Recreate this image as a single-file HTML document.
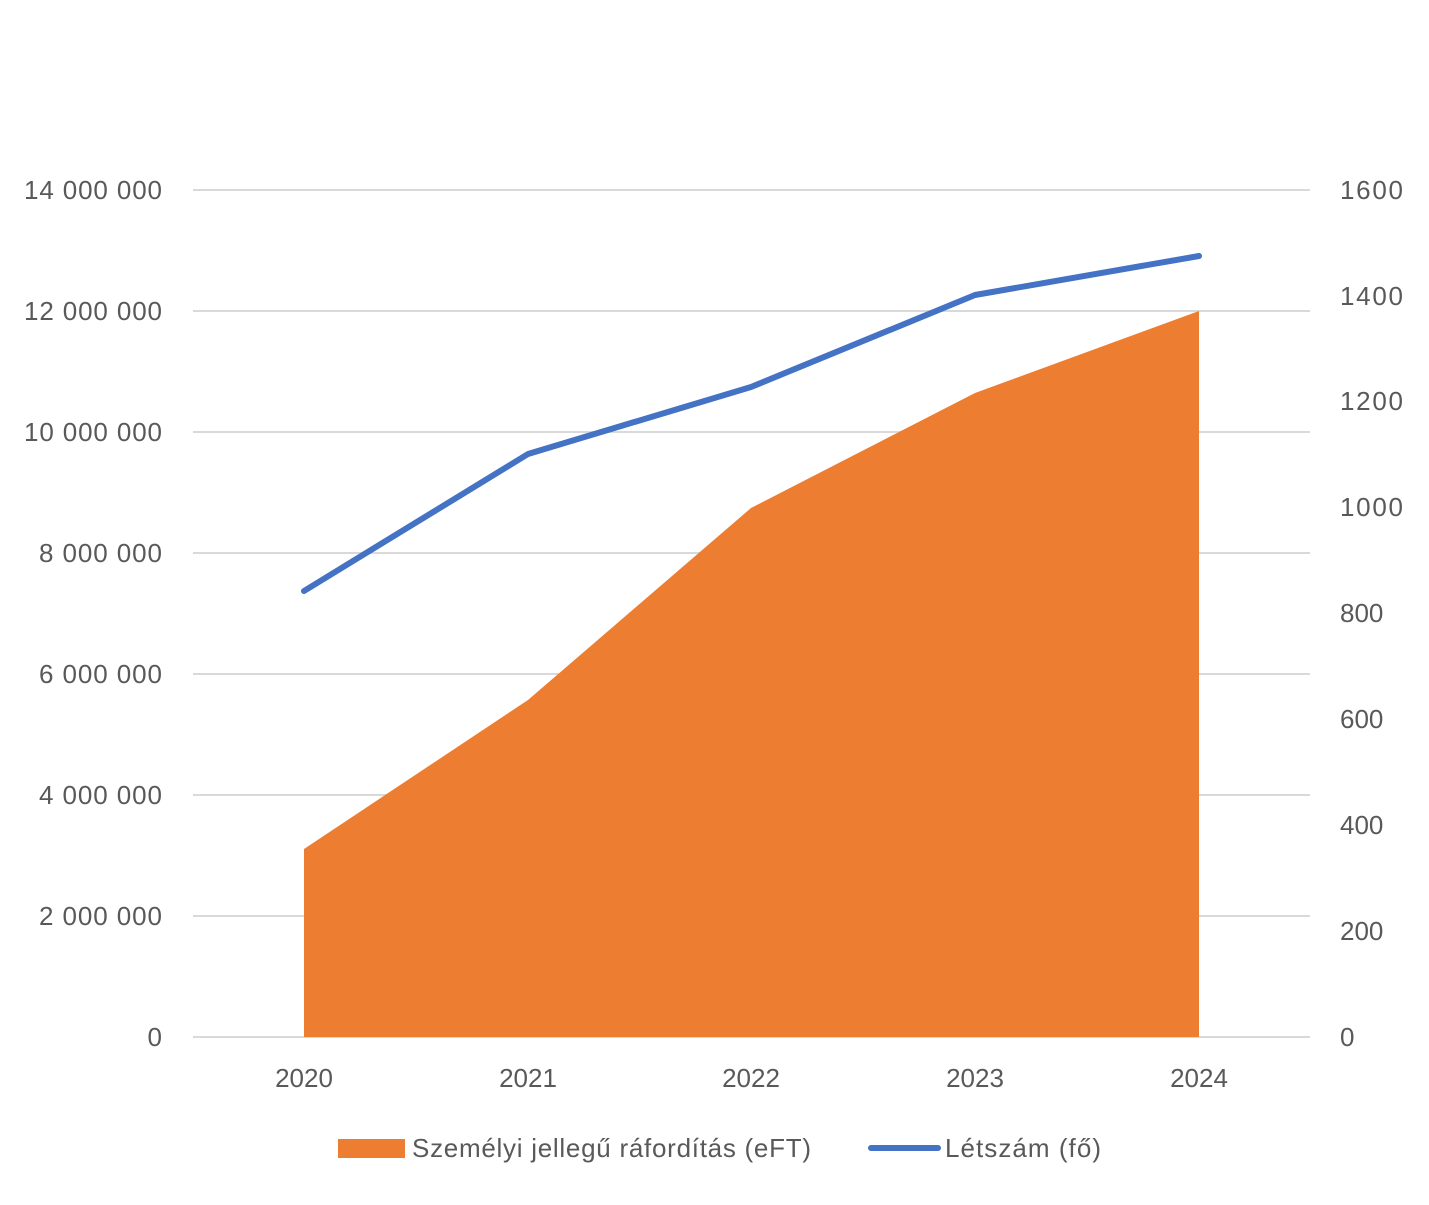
<!DOCTYPE html>
<html><head><meta charset="utf-8"><style>body{margin:0;background:#fff}</style></head><body>
<svg width="1429" height="1200" xmlns="http://www.w3.org/2000/svg" font-family="Liberation Sans, sans-serif" font-size="26" fill="#595959">
<g stroke="#d9d9d9" stroke-width="2">
<line x1="193" x2="1310" y1="190" y2="190"/><line x1="193" x2="1310" y1="311" y2="311"/>
<line x1="193" x2="1310" y1="432" y2="432"/><line x1="193" x2="1310" y1="553" y2="553"/>
<line x1="193" x2="1310" y1="674" y2="674"/><line x1="193" x2="1310" y1="795" y2="795"/>
<line x1="193" x2="1310" y1="916" y2="916"/><line x1="193" x2="1310" y1="1037" y2="1037"/>
</g>
<polygon points="304,849 528,700 751,508 975,393 1199,311 1199,1037 304,1037" fill="#ed7d31"/>
<polyline points="304,591 528,454 751,387 975,295 1199,256" fill="none" stroke="#4472c4" stroke-width="6" stroke-linecap="round" stroke-linejoin="round"/>
<g text-anchor="end">
<text x="162" y="199" textLength="138">14 000 000</text><text x="162" y="320" textLength="138">12 000 000</text>
<text x="162" y="441" textLength="138">10 000 000</text><text x="162" y="562" textLength="123">8 000 000</text>
<text x="162" y="683" textLength="123">6 000 000</text><text x="162" y="804" textLength="123">4 000 000</text>
<text x="162" y="925" textLength="123">2 000 000</text><text x="162" y="1046">0</text>
</g>
<g>
<text x="1340" y="199" textLength="63">1600</text><text x="1340" y="305" textLength="63">1400</text>
<text x="1340" y="410" textLength="63">1200</text><text x="1340" y="516" textLength="63">1000</text>
<text x="1340" y="622">800</text><text x="1340" y="728">600</text>
<text x="1340" y="834">400</text><text x="1340" y="940">200</text>
<text x="1340" y="1046">0</text>
</g>
<g text-anchor="middle">
<text x="304" y="1087">2020</text><text x="528" y="1087">2021</text>
<text x="751" y="1087">2022</text><text x="975" y="1087">2023</text><text x="1199" y="1087">2024</text>
</g>
<rect x="338" y="1139" width="67" height="19" fill="#ed7d31"/>
<text x="412" y="1157" textLength="399">Személyi jellegű ráfordítás (eFT)</text>
<line x1="871" x2="938" y1="1148" y2="1148" stroke="#4472c4" stroke-width="6" stroke-linecap="round"/>
<text x="945" y="1157" textLength="156">Létszám (fő)</text>
</svg>
</body></html>
